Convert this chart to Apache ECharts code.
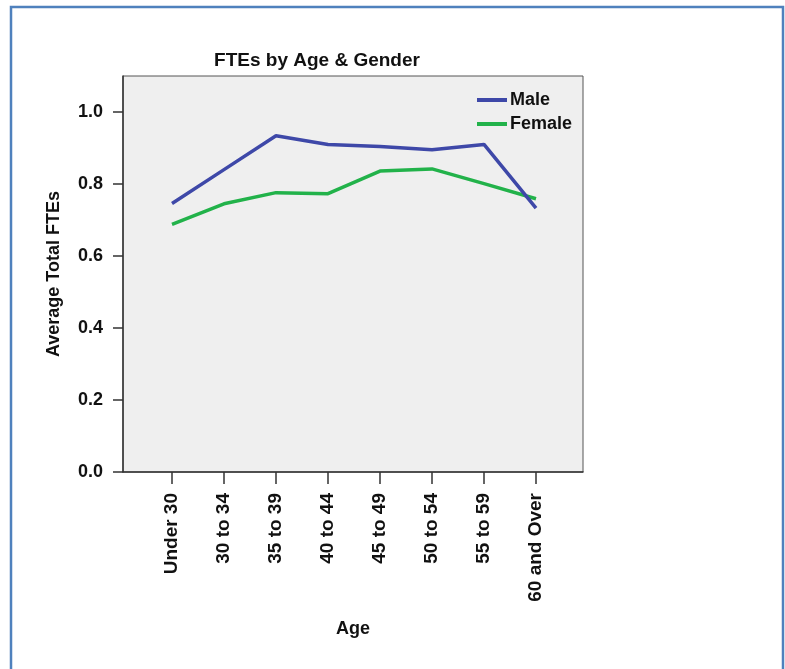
<!DOCTYPE html>
<html>
<head>
<meta charset="utf-8">
<script src="https://cdn.jsdelivr.net/npm/echarts@6/dist/echarts.min.js"></script>
<style>
html,body{margin:0;padding:0;background:#fff;}
#c{width:785px;height:669px;}
</style>
</head>
<body>
<div id="c"></div>
<script>
var categories = ['Under 30','30 to 34','35 to 39','40 to 44','45 to 49','50 to 54','55 to 59','60 and Over'];
var maleValues = [0.746, 0.840, 0.934, 0.910, 0.904, 0.895, 0.910, 0.733];
var femaleValues = [0.688, 0.745, 0.776, 0.773, 0.836, 0.842, 0.801, 0.759];
var yTicks = [0, 0.2, 0.4, 0.6, 0.8, 1.0];
var seriesNames = ['Male', 'Female'];

var FONT = "'Liberation Sans', Arial, sans-serif";
var chart = echarts.init(document.getElementById('c'), null, {renderer:'canvas'});
var option = {
  backgroundColor: '#ffffff',
  animation: false,
  title: {
    text: 'FTEs by Age & Gender',
    left: 312, top: 46, textAlign: 'center',
    textStyle: {fontFamily: FONT, fontSize: 19, fontWeight: 'bold', color: '#111'}
  },
  legend: {
    orient: 'vertical',
    left: 477, top: 91, padding: 0,
    itemWidth: 30, itemHeight: 4, itemGap: 6,
    icon: 'rect',
    data: seriesNames,
    textStyle: {fontFamily: FONT, fontSize: 18, fontWeight: 'bold', color: '#111', padding: [0,0,0,-2]}
  },
  grid: [
    {left: 172, right: 249, top: 76, bottom: 197, show: false},
    {left: 123, right: 202, top: 76, bottom: 197, show: true, backgroundColor: '#efefef', borderColor: '#555', borderWidth: 1, z: 0}
  ],
  xAxis: [
    {
      type: 'category', gridIndex: 0, data: categories, boundaryGap: false,
      axisLine: {show: false},
      axisTick: {show: true, length: 12, alignWithLabel: true, lineStyle: {color: '#333', width: 1.5}},
      axisLabel: {rotate: 90, margin: 21, fontFamily: FONT, fontSize: 19, fontWeight: 'bold', color: '#111', interval: 0},
      splitLine: {show: false}
    },
    {
      type: 'value', gridIndex: 1, min: 0, max: 1,
      axisLine: {show: true, lineStyle: {color: '#333', width: 1.5}},
      axisTick: {show: false}, axisLabel: {show: false}, splitLine: {show: false},
      name: 'Age', nameLocation: 'middle', nameGap: 148,
      nameTextStyle: {fontFamily: FONT, fontSize: 18, fontWeight: 'bold', color: '#111'}
    }
  ],
  yAxis: [
    {
      type: 'value', gridIndex: 0, min: 0, max: 1.1, show: false
    },
    {
      type: 'value', gridIndex: 1, min: 0, max: 1.1,
      axisLine: {show: true, lineStyle: {color: '#333', width: 1.5}},
      axisTick: {show: true, length: 10, customValues: yTicks, lineStyle: {color: '#333', width: 1.5}},
      axisLabel: {customValues: yTicks, margin: 20, fontFamily: FONT, fontSize: 18, fontWeight: 'bold', color: '#111',
        formatter: function(v){ return v.toFixed(1); }},
      splitLine: {show: false},
      name: 'Average Total FTEs', nameLocation: 'middle', nameGap: 60,
      nameTextStyle: {fontFamily: FONT, fontSize: 18, fontWeight: 'bold', color: '#111'}
    }
  ],
  series: [
    {name: seriesNames[0], type: 'line', xAxisIndex: 0, yAxisIndex: 0, data: maleValues,
     showSymbol: false, symbol: 'none', color: '#3E48A8', lineStyle: {width: 3.5, color: '#3E48A8'}, z: 3},
    {name: seriesNames[1], type: 'line', xAxisIndex: 0, yAxisIndex: 0, data: femaleValues,
     showSymbol: false, symbol: 'none', color: '#22B24A', lineStyle: {width: 3.5, color: '#22B24A'}, z: 2}
  ],
  graphic: [
    {type: 'rect', shape: {x: 11, y: 7, width: 772, height: 700}, style: {fill: null, stroke: '#4F81BD', lineWidth: 2.5}, silent: true, z: 100}
  ]
};
chart.setOption(option);
</script>
</body>
</html>
